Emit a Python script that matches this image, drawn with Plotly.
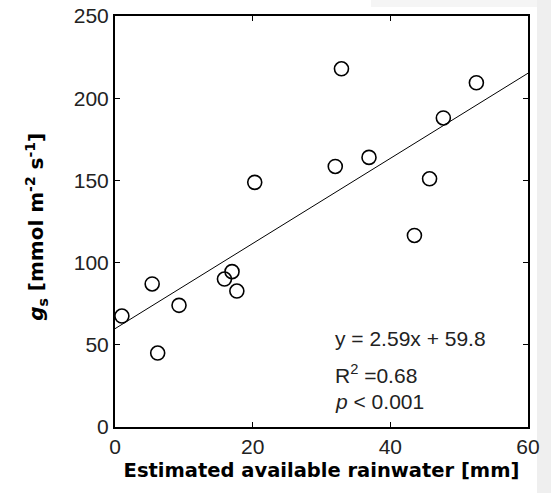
import plotly.graph_objects as go

rain_mm = [1.0, 5.4, 6.2, 9.3, 15.9, 17.0, 17.7, 20.3, 32.0, 32.9, 36.9, 43.5, 45.7, 47.7, 52.5]
gs = [67.5, 87.0, 45.0, 74.0, 90.0, 94.5, 82.7, 148.8, 158.5, 217.9, 164.0, 116.5, 151.0, 188.0, 209.4]
slope = 2.59
intercept = 59.8
fit_x = [0, 60]
fit_y = [slope * v + intercept for v in fit_x]

x_ticks = [0, 20, 40, 60]
y_ticks = [0, 50, 100, 150, 200, 250]

FONT = "Liberation Sans"
BOLD = "DejaVu Sans"

fig = go.Figure()
fig.add_trace(go.Scatter(x=fit_x, y=fit_y, mode="lines",
                         line=dict(color="black", width=1), showlegend=False, cliponaxis=False))
fig.add_trace(go.Scatter(x=rain_mm, y=gs, mode="markers",
                         marker=dict(symbol="circle-open", size=14, color="black",
                                     line=dict(width=1.6, color="black")),
                         showlegend=False, cliponaxis=False))

axis_common = dict(showgrid=False, zeroline=False, showline=True, linecolor="black",
                   linewidth=2, mirror="allticks", ticks="inside", ticklen=5,
                   tickcolor="black", tickwidth=1, automargin=False,
                   ticklabeloverflow="allow",
                   tickfont=dict(family=FONT, size=21, color="#222"))

fig.update_layout(
    width=551, height=493,
    margin=dict(l=115, r=23, t=16, b=66),
    paper_bgcolor="white", plot_bgcolor="white",
    xaxis=dict(range=[0, 60], tickvals=x_ticks, **axis_common,
               title=dict(text="<b>Estimated available rainwater [mm]</b>",
                          font=dict(family=BOLD, size=19.5, color="black"), standoff=6)),
    yaxis=dict(range=[0, 250], tickvals=y_ticks, **axis_common),
    shapes=[
        dict(type="rect", xref="paper", yref="paper", x0=1.0218, x1=1.1,
             y0=-0.2, y1=1.05, fillcolor="#efefef", line=dict(width=0), layer="below"),
        dict(type="rect", xref="paper", yref="paper", x0=0.62, x1=1.0218,
             y0=1.0219, y1=1.05, fillcolor="#f5f5f5", line=dict(width=0), layer="below"),
    ],
)

fig.add_annotation(text="<b><i>g</i><sub>s</sub> [mmol m<sup>-2</sup> s<sup>-1</sup>]</b>",
                   xref="paper", yref="paper", x=-0.189, y=0.487, textangle=-90,
                   xanchor="center", yanchor="middle", showarrow=False,
                   font=dict(family=BOLD, size=20, color="black"))

ann_lines = ["y = 2.59x + 59.8", "R<sup>2</sup> =0.68", "<i>p</i> < 0.001"]
ann_y = [0.2165, 0.129, 0.061]
for txt, yy in zip(ann_lines, ann_y):
    fig.add_annotation(text=txt, xref="paper", yref="paper", x=0.528, y=yy,
                       xanchor="left", yanchor="middle", showarrow=False,
                       font=dict(family=FONT, size=21, color="#222"))

fig.write_html("out.html", config={"displayModeBar": False},
               post_script="document.body.style.margin='0';")
